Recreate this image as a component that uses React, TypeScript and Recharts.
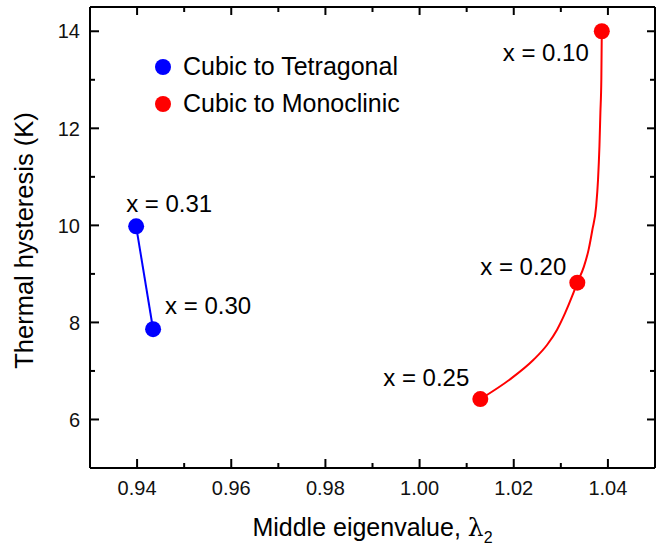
import React from 'react';
import { ComposedChart, Line, XAxis, YAxis, Legend, LabelList, Label } from 'recharts';

const tetraX = [0.9398, 0.9434];
const tetraY = [9.98, 7.86];
const tetraLabels = ['x = 0.31', 'x = 0.30'];

const monoX = [1.0129, 1.0335, 1.0387];
const monoY = [6.42, 8.82, 14.0];
const monoLabels = ['x = 0.25', 'x = 0.20', 'x = 0.10'];

// smooth guide curve through the monoclinic points
const monoCurveX = [1.0129, 1.0191, 1.0242, 1.0271, 1.0292, 1.0309, 1.0324, 1.0335, 1.0349, 1.0359, 1.0367, 1.0375, 1.0379, 1.0382, 1.0384, 1.0386, 1.0387];
const monoCurveY = [6.42, 6.82, 7.23, 7.54, 7.85, 8.19, 8.54, 8.82, 9.15, 9.5, 9.91, 10.39, 10.94, 11.63, 12.32, 13.0, 14.0];

const xTicks = [0.94, 0.95, 0.96, 0.97, 0.98, 0.99, 1.0, 1.01, 1.02, 1.03, 1.04];
const yTicks = [6, 7, 8, 9, 10, 11, 12, 13, 14];
const xDomain = [0.93, 1.05];
const yDomain = [5, 14.5];

const seriesNames = ['Cubic to Tetragonal', 'Cubic to Monoclinic'];
const colors = ['#0000ff', '#ff0000'];

const tetraData = tetraX.map((x, i) => ({ x, y: tetraY[i], label: tetraLabels[i] }));
const monoData = monoX.map((x, i) => ({ x, y: monoY[i], label: monoLabels[i] }));
const monoCurve = monoCurveX.map((x, i) => ({ x, y: monoCurveY[i] }));

const FONT = '"Liberation Sans", Arial, sans-serif';

// label placement offsets relative to the point: [anchor, dx, dy]
const tetraOffsets: [string, number, number][] = [
  ['start', -10, -14],
  ['start', 12, -15],
];
const monoOffsets: [string, number, number][] = [
  ['end', -11, -13],
  ['end', -11, -8],
  ['end', -13, 30],
];

const isMajorX = (v: number) => Math.round(v * 100) % 2 === 0;
const isMajorY = (v: number) => Math.round(v) % 2 === 0;

const BottomTick = (props: any) => {
  const { x, y, payload } = props;
  const major = isMajorX(payload.value);
  return (
    <g>
      <line x1={x} x2={x} y1={y} y2={y - (major ? 9 : 5)} stroke="#000" strokeWidth={2} />
      {major && (
        <text x={x} y={y + 27} textAnchor="middle" fontSize={20} fontFamily={FONT} fill="#111">
          {payload.value.toFixed(2)}
        </text>
      )}
    </g>
  );
};

const TopTick = (props: any) => {
  const { x, y, payload } = props;
  const major = isMajorX(payload.value);
  return <line x1={x} x2={x} y1={y} y2={y + (major ? 8 : 5)} stroke="#000" strokeWidth={2} />;
};

const LeftTick = (props: any) => {
  const { x, y, payload } = props;
  const major = isMajorY(payload.value);
  return (
    <g>
      <line x1={x} x2={x + (major ? 9 : 5)} y1={y} y2={y} stroke="#000" strokeWidth={2} />
      {major && (
        <text x={x - 10} y={y} dy="0.36em" textAnchor="end" fontSize={20} fontFamily={FONT} fill="#111">
          {payload.value}
        </text>
      )}
    </g>
  );
};

const RightTick = (props: any) => {
  const { x, y, payload } = props;
  const major = isMajorY(payload.value);
  return <line x1={x} x2={x - (major ? 8 : 5)} y1={y} y2={y} stroke="#000" strokeWidth={2} />;
};

const makeLabel = (offsets: [string, number, number][]) => (props: any) => {
  const { x, y, value, index } = props;
  const o = offsets[index] || ['start', 0, 0];
  return (
    <text x={x + o[1]} y={y + o[2]} textAnchor={o[0] as any} fontSize={24} fontFamily={FONT} fill="#000">
      {value}
    </text>
  );
};

const LegendContent = () => (
  <div style={{ fontFamily: FONT, fontSize: 25, color: '#000', lineHeight: '37px' }}>
    {seriesNames.map((n, i) => (
      <div key={n} style={{ display: 'flex', alignItems: 'center', height: 37 }}>
        <svg width={16} height={16} style={{ marginRight: 12 }}>
          <circle cx={8} cy={8} r={8} fill={colors[i]} />
        </svg>
        <span>{n}</span>
      </div>
    ))}
  </div>
);

const XTitle = (props: any) => {
  const vb = props.viewBox || { x: 90, y: 468, width: 565, height: 79 };
  return (
    <text x={vb.x + vb.width / 2} y={vb.y + 68} textAnchor="middle" fontSize={25} fontFamily={FONT} fill="#000">
      Middle eigenvalue,{' '}
      <tspan fontFamily='"DejaVu Serif", serif'>λ</tspan>
      <tspan fontSize={16} dy={7}>2</tspan>
    </text>
  );
};

const YTitle = (props: any) => {
  const vb = props.viewBox || { x: 0, y: 7, width: 90, height: 461 };
  const cx = vb.x + 33;
  const cy = vb.y + vb.height / 2 + 3;
  return (
    <text x={cx} y={cy} transform={`rotate(-90, ${cx}, ${cy})`} textAnchor="middle" fontSize={25.5} fontFamily={FONT} fill="#000">
      Thermal hysteresis (K)
    </text>
  );
};

export default function App() {
  return (
    <div style={{ position: 'absolute', left: 0, top: 0, background: '#fff' }}>
      <ComposedChart width={662} height={547} margin={{ top: 6, right: 6, left: 0, bottom: 0 }}>
        <XAxis
          type="number"
          dataKey="x"
          domain={xDomain}
          allowDataOverflow
          ticks={xTicks}
          interval={0}
          tickSize={0}
          tickMargin={0}
          tickLine={false}
          tick={<BottomTick />}
          height={79}
          axisLine={{ stroke: '#000', strokeWidth: 2 }}
        >
          <Label content={<XTitle />} />
        </XAxis>
        <XAxis
          xAxisId="top"
          orientation="top"
          type="number"
          dataKey="x"
          domain={xDomain}
          allowDataOverflow
          ticks={xTicks}
          interval={0}
          tickSize={0}
          tickMargin={0}
          tickLine={false}
          tick={<TopTick />}
          height={1}
          axisLine={{ stroke: '#000', strokeWidth: 2 }}
        />
        <YAxis
          type="number"
          domain={yDomain}
          allowDataOverflow
          ticks={yTicks}
          interval={0}
          tickSize={0}
          tickMargin={0}
          tickLine={false}
          tick={<LeftTick />}
          width={90}
          axisLine={{ stroke: '#000', strokeWidth: 2 }}
        >
          <Label content={<YTitle />} />
        </YAxis>
        <YAxis
          yAxisId="right"
          orientation="right"
          type="number"
          domain={yDomain}
          allowDataOverflow
          ticks={yTicks}
          interval={0}
          tickSize={0}
          tickMargin={0}
          tickLine={false}
          tick={<RightTick />}
          width={1}
          axisLine={{ stroke: '#000', strokeWidth: 2 }}
        />
        <Legend
          layout="vertical"
          align="center"
          verticalAlign="middle"
          content={<LegendContent />}
          wrapperStyle={{ left: 155, top: 48, width: 280 }}
        />
        <Line
          data={monoData}
          dataKey="y"
          xAxisId="top"
          yAxisId="right"
          stroke="none"
          dot={false}
          activeDot={false}
          legendType="none"
          isAnimationActive={false}
        />
        <Line
          data={monoCurve}
          dataKey="y"
          type="monotone"
          stroke={colors[1]}
          strokeWidth={2}
          dot={false}
          activeDot={false}
          legendType="none"
          isAnimationActive={false}
        />
        <Line
          data={tetraData}
          dataKey="y"
          name={seriesNames[0]}
          type="linear"
          stroke={colors[0]}
          strokeWidth={2}
          dot={{ r: 8, fill: colors[0], stroke: 'none' }}
          activeDot={false}
          isAnimationActive={false}
        >
          <LabelList dataKey="label" content={makeLabel(tetraOffsets)} />
        </Line>
        <Line
          data={monoData}
          dataKey="y"
          name={seriesNames[1]}
          type="linear"
          stroke="none"
          dot={{ r: 8, fill: colors[1], stroke: 'none' }}
          activeDot={false}
          isAnimationActive={false}
        >
          <LabelList dataKey="label" content={makeLabel(monoOffsets)} />
        </Line>
      </ComposedChart>
    </div>
  );
}
